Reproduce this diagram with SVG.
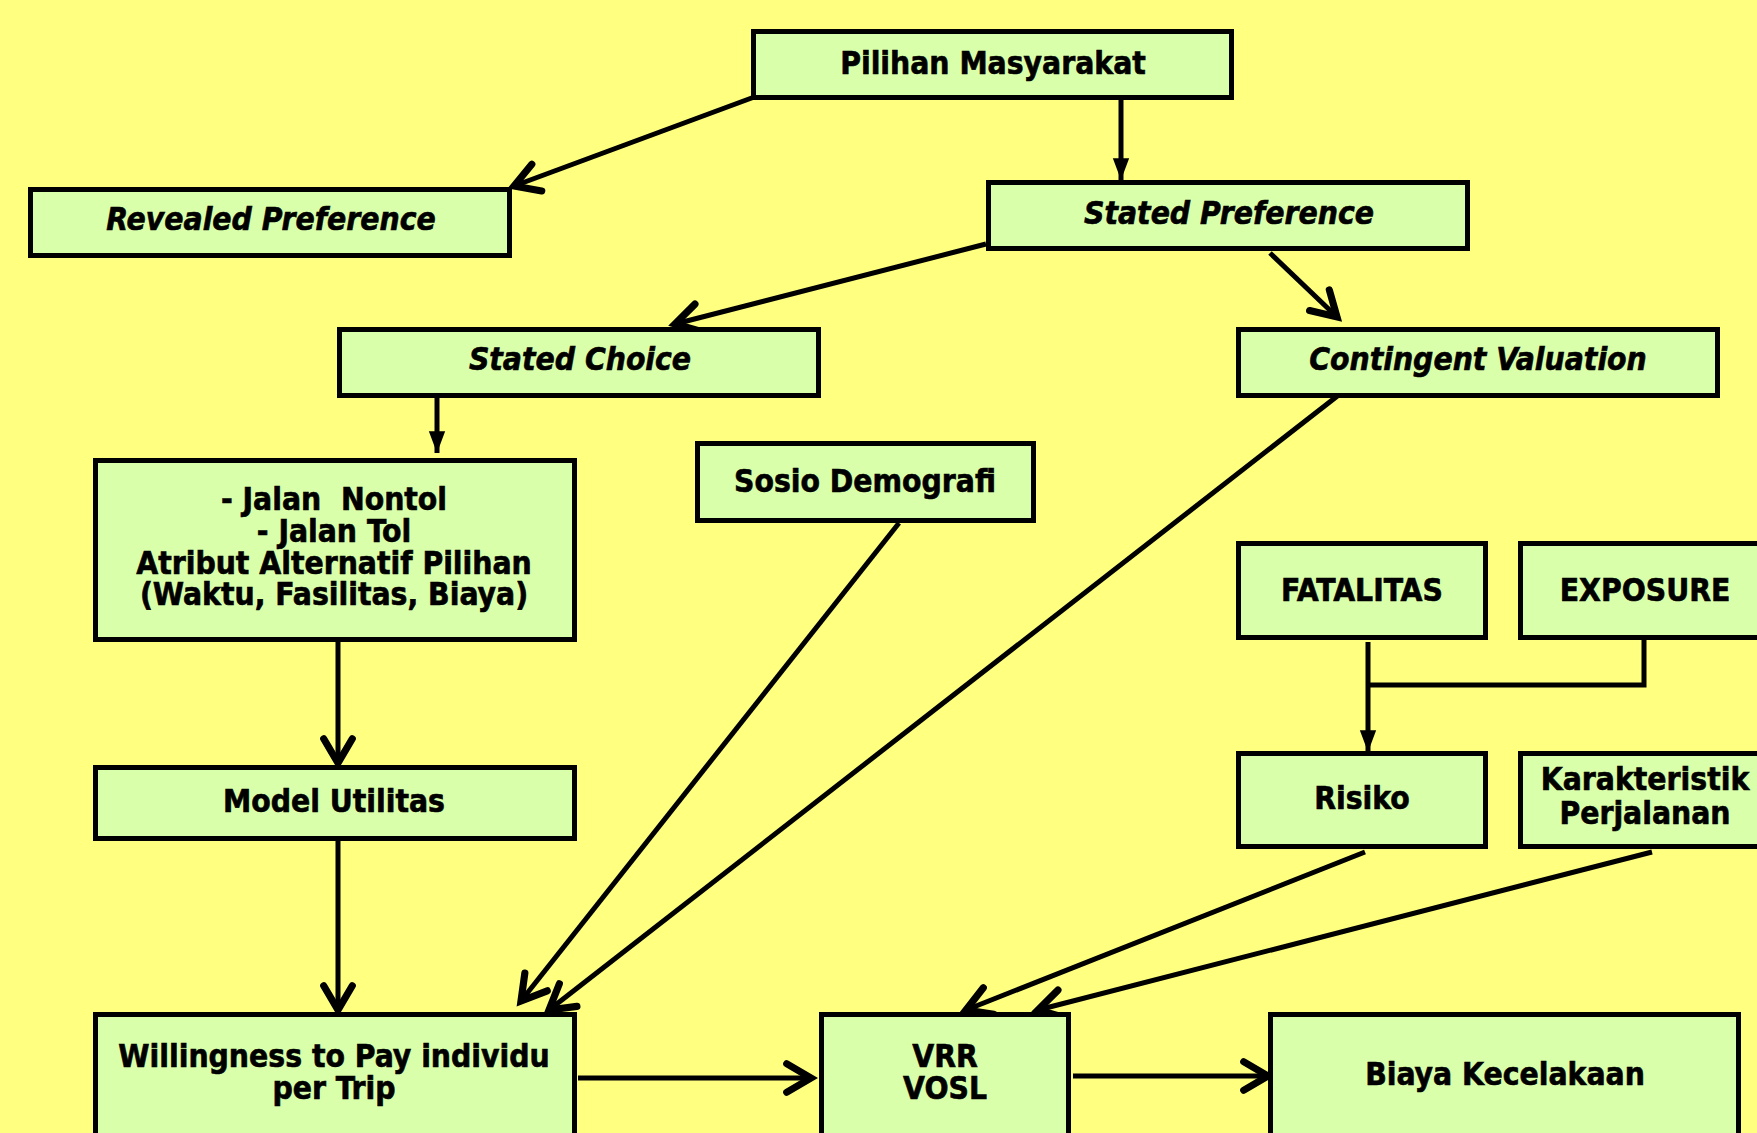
<svg xmlns="http://www.w3.org/2000/svg" width="1757" height="1133" viewBox="0 0 1757 1133">
<style>
.bg{fill:#FFFF80}
.box{fill:#D9FFAA;stroke:#000;stroke-width:5}
.t{font-family:"DejaVu Sans Condensed","DejaVu Sans",sans-serif;font-stretch:condensed;font-weight:bold;font-size:31.5px;fill:#000;stroke:#000;stroke-width:0.6;text-anchor:middle}
.i{font-style:italic}
.c{fill:none;stroke:#000;stroke-width:5}
</style>
<defs>
<marker id="open" markerUnits="userSpaceOnUse" markerWidth="40" markerHeight="40" viewBox="-22 -14 26 28" refX="0" refY="0" orient="auto">
<path d="M-17,-10 L0,0 L-17,10" fill="none" stroke="#000" stroke-width="5" stroke-linecap="round" stroke-linejoin="miter"/>
</marker>
<marker id="fill" markerUnits="userSpaceOnUse" markerWidth="30" markerHeight="30" viewBox="-20 -10 22 20" refX="0" refY="0" orient="auto">
<path d="M-16,-6 L0,0 L-16,6 Z" fill="#000"/>
</marker>
</defs>
<rect class="bg" x="0" y="0" width="1757" height="1133"/>

<g id="connectors">
<line class="c" x1="757" y1="96" x2="514" y2="186" marker-end="url(#open)"/>
<line class="c" x1="1121" y1="99" x2="1121" y2="180" marker-end="url(#fill)"/>
<line class="c" x1="986" y1="244" x2="675" y2="324" marker-end="url(#open)"/>
<line class="c" x1="1270" y1="253" x2="1337" y2="317" marker-end="url(#open)"/>
<line class="c" x1="437" y1="397" x2="437" y2="453" marker-end="url(#fill)"/>
<line class="c" x1="338" y1="641" x2="338" y2="763" marker-end="url(#open)"/>
<line class="c" x1="338" y1="840" x2="338" y2="1010" marker-end="url(#open)"/>
<line class="c" x1="899" y1="523" x2="521" y2="1001" marker-end="url(#open)"/>
<line class="c" x1="1340" y1="394" x2="549" y2="1010" marker-end="url(#open)"/>
<polyline class="c" points="1644,639 1644,685 1368,685"/>
<line class="c" x1="1368" y1="642" x2="1368" y2="752" marker-end="url(#fill)"/>
<line class="c" x1="1365" y1="852" x2="966" y2="1010" marker-end="url(#open)"/>
<line class="c" x1="1652" y1="852" x2="1038" y2="1010" marker-end="url(#open)"/>
<line class="c" x1="578" y1="1078" x2="811" y2="1078" marker-end="url(#open)"/>
<line class="c" x1="1073" y1="1076" x2="1268" y2="1076" marker-end="url(#open)"/>
</g>

<g id="pilihan"><rect class="box" x="753.5" y="31.5" width="478" height="66"/><text class="t" x="993" y="74">Pilihan Masyarakat</text></g>
<g id="revealed"><rect class="box" x="30.5" y="189.5" width="479" height="66"/><text class="t i" x="271" y="230">Revealed Preference</text></g>
<g id="stated-pref"><rect class="box" x="988.5" y="182.5" width="479" height="66"/><text class="t i" x="1229" y="224">Stated Preference</text></g>
<g id="stated-choice"><rect class="box" x="339.5" y="329.5" width="479" height="66"/><text class="t i" x="580" y="370">Stated Choice</text></g>
<g id="contingent"><rect class="box" x="1238.5" y="329.5" width="479" height="66"/><text class="t i" x="1478" y="370">Contingent Valuation</text></g>
<g id="atribut"><rect class="box" x="95.5" y="460.5" width="479" height="179"/>
<text class="t" x="334" y="510" xml:space="preserve">- Jalan  Nontol</text>
<text class="t" x="334" y="542">- Jalan Tol</text>
<text class="t" x="334" y="574">Atribut Alternatif Pilihan</text>
<text class="t" x="334" y="605">(Waktu, Fasilitas, Biaya)</text></g>
<g id="sosio"><rect class="box" x="697.5" y="443.5" width="336" height="77"/><text class="t" x="865" y="492">Sosio Demografi</text></g>
<g id="fatalitas"><rect class="box" x="1238.5" y="543.5" width="247" height="94"/><text class="t" x="1362" y="601">FATALITAS</text></g>
<g id="exposure"><rect class="box" x="1520.5" y="543.5" width="247" height="94"/><text class="t" x="1645" y="601">EXPOSURE</text></g>
<g id="model"><rect class="box" x="95.5" y="767.5" width="479" height="71"/><text class="t" x="334" y="812">Model Utilitas</text></g>
<g id="risiko"><rect class="box" x="1238.5" y="753.5" width="247" height="93"/><text class="t" x="1362" y="809">Risiko</text></g>
<g id="karakteristik"><rect class="box" x="1520.5" y="753.5" width="247" height="93"/><text class="t" x="1645" y="790">Karakteristik</text><text class="t" x="1645" y="824">Perjalanan</text></g>
<g id="wtp"><rect class="box" x="95.5" y="1014.5" width="479" height="140"/><text class="t" x="334" y="1067">Willingness to Pay individu</text><text class="t" x="334" y="1099">per Trip</text></g>
<g id="vrr"><rect class="box" x="821.5" y="1014.5" width="247" height="140"/><text class="t" x="945" y="1067">VRR</text><text class="t" x="945" y="1099">VOSL</text></g>
<g id="biaya"><rect class="box" x="1270.5" y="1014.5" width="468" height="140"/><text class="t" x="1505" y="1085">Biaya Kecelakaan</text></g>
</svg>
